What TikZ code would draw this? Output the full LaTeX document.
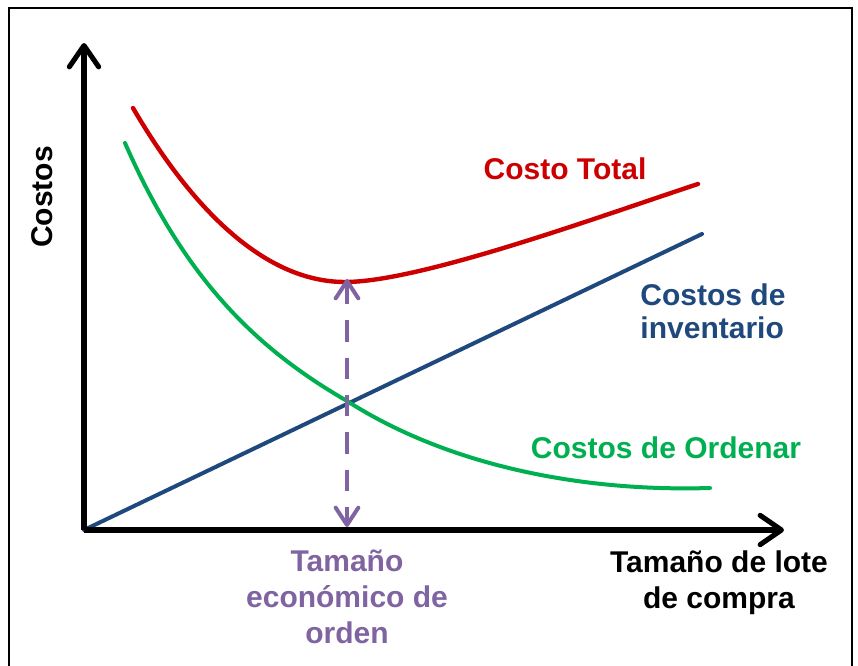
\documentclass[tikz,border=0pt]{standalone}
\usepackage{fontspec}
\setmainfont{Liberation Sans}
\usetikzlibrary{arrows.meta}
\definecolor{totred}{RGB}{204,0,0}
\definecolor{invblue}{RGB}{31,73,125}
\definecolor{ordgreen}{RGB}{0,176,80}
\definecolor{eoqpurple}{RGB}{128,100,162}
\tikzset{axis/.style = {line width=3.8pt, -{Straight Barb[length=16pt,width=22pt,round]}}}
\tikzset{curve/.style = {line width=3pt, line cap=round}}
\tikzset{eoqarrow/.style = {eoqpurple, line width=3pt, dash pattern=on 16pt off 12pt, {Straight Barb[length=13pt,width=17pt,round]}-{Straight Barb[length=13pt,width=17pt,round]}}}
\tikzset{lbl/.style = {font=\fontsize{22.5}{27}\selectfont\bfseries, inner sep=0pt, align=center}}

\begin{document}
\begin{tikzpicture}[x=0.75pt, y=-0.75pt]
\useasboundingbox (0,0) rectangle (858,666);
\draw[line width=1.5pt] (9,680) -- (9,8) -- (852,8) -- (852,680);

\coordinate (o) at (84,530);
\coordinate (ytip) at (84,43);
\coordinate (xtip) at (784,530);
\coordinate (inv) at (702,234);
\coordinate (opt) at (347,279);
\coordinate (eoq) at (347,527);
\coordinate (cross) at (347,401);
\coordinate (low) at (345,282);

\draw[curve, invblue] (o) -- (inv);
\draw[curve, ordgreen] (125,143) .. controls (185,280) and (257,349) .. (cross)
  .. controls (447,465) and (580,492) .. (710,488);
\draw[curve, totred, line width=3.3pt] (133,108) .. controls (175,180) and (250,282) .. (low)
  .. controls (420,282) and (598,217) .. (698,184);

\draw[axis] (o) -- (ytip);
\draw[axis] (o) -- (xtip);
\draw[eoqarrow] (opt) -- (eoq);

\node[lbl, rotate=90] (ylab) at (42,197) {Costos};
\node[lbl, totred] (totlab) at (565,169) {Costo Total};
\node[lbl, invblue, align=left, font=\fontsize{22.5}{25}\selectfont\bfseries] (invlab) at (713,311) {Costos de\\inventario};
\node[lbl, ordgreen] (ordlab) at (666,448) {Costos de Ordenar};
\node[lbl, eoqpurple] (eoqlab) at (347,597) {Tamaño\\económico de\\orden};
\node[lbl] (xlab) at (719,583) {Tamaño de lote\\de compra};
\end{tikzpicture}
\end{document}
